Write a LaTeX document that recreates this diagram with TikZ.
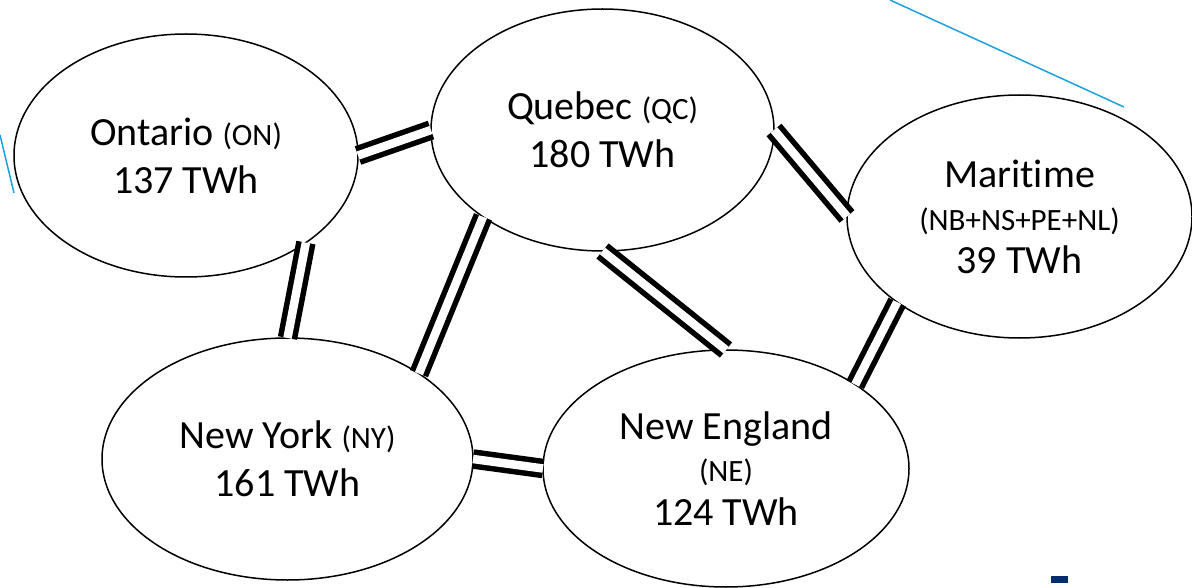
\documentclass[tikz,border=0pt]{standalone}
\usepackage{fontspec}
\setmainfont{Carlito}[RawFeature={-liga;-dlig}]
\usetikzlibrary{shapes.geometric}
\definecolor{accentblue}{RGB}{30,160,220}
\definecolor{navymark}{RGB}{0,45,110}
\tikzset{
  region/.style={ellipse, draw=black, line width=1.5pt, inner sep=0pt, outer sep=0pt,
    align=center, font=\fontsize{40}{48}\selectfont},
  link/.style={draw=black, double=white, double distance=8.5pt, line width=5.5pt},
  accent/.style={draw=accentblue, line width=1.5pt}
}
\newcommand{\smalltxt}[1]{{\fontsize{31}{37}\selectfont #1}}
\begin{document}
\begin{tikzpicture}[x=1pt,y=-1pt]
\useasboundingbox (0,0) rectangle (1192,588);
% decorative blue lines
\coordinate (bl1) at (0,135);
\coordinate (bl2) at (14,193);
\coordinate (br1) at (890,0);
\coordinate (br2) at (1124,107);
\draw[accent] (bl1) -- (bl2);
\draw[accent] (br1) -- (br2);
\fill[navymark] (1051,576) rectangle (1068,583);
% regions
\node[region, minimum width=344pt, minimum height=243pt] (on) at (186,155.5)
  {Ontario \smalltxt{(ON)}\\137 TWh};
\node[region, minimum width=343pt, minimum height=242pt] (qc) at (602.5,130)
  {Quebec \smalltxt{(QC)}\\180 TWh};
\node[region, minimum width=345pt, minimum height=243pt] (ma) at (1019.5,216.5)
  {Maritime\\[-5pt]\smalltxt{(NB+NS+PE+NL)}\\[-5pt]39 TWh};
\node[region, minimum width=371pt, minimum height=242pt] (ny) at (287.5,459)
  {New York \smalltxt{(NY)}\\161 TWh};
\node[region, minimum width=366pt, minimum height=237pt] (ne) at (726,468.5)
  {New England\\[-6pt]\smalltxt{(NE)}\\[-4pt]124 TWh};
% interconnections
\draw[link] (on.east) -- (qc.west);
\draw[link] (on.-36) -- (ny.north);
\draw[link] (qc.-144) -- (ny.33);
\draw[link] (qc.south) -- (ne.north);
\draw[link] (qc.east) -- (ma.west);
\draw[link] (ma.-145) -- (ne.33);
\draw[link] (ny.east) -- (ne.west);
\end{tikzpicture}
\end{document}
